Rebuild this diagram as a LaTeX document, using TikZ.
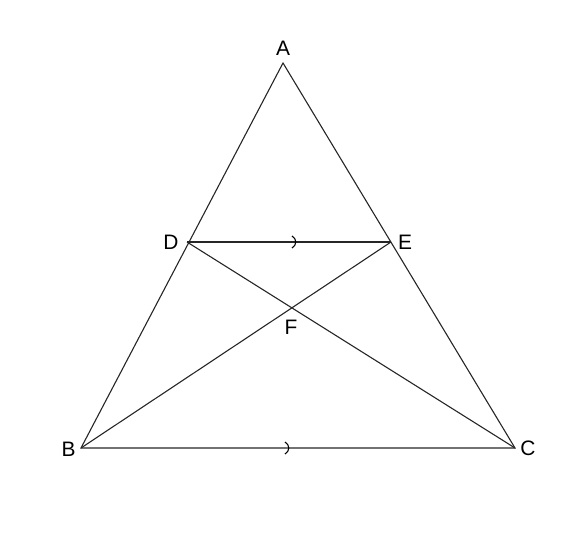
\documentclass[tikz,border=0pt]{standalone}
\usepackage{fontspec}
\setmainfont{Liberation Sans}
\begin{document}
\begin{tikzpicture}[x=1bp,y=-1bp,
  edge/.style={line width=1.1bp, draw=black!85},
  lbl/.style={font=\fontsize{21}{21}\selectfont, inner sep=0pt},
  tickmark/.style={line width=1.1bp, draw=black}]
\useasboundingbox (0,0) rectangle (573,533);
\coordinate (A) at (283,63);
\coordinate (B) at (81,448);
\coordinate (C) at (515,448);
\coordinate (D) at (187,242);
\coordinate (E) at (391,242);
\coordinate (F) at (291.5,308);
\draw[edge] (A) -- (B) -- (C) -- cycle;
\draw[edge] (D) -- (E);
\draw[edge] (D) -- (C);
\draw[edge] (E) -- (B);
\coordinate (t1) at (294,242);
\coordinate (t2) at (287,448);
\draw[tickmark] ([shift={(-2,-6)}]t1) .. controls ([shift={(3,-3)}]t1) and ([shift={(3,3)}]t1) .. ([shift={(-2,6)}]t1);
\draw[tickmark] ([shift={(-2,-6)}]t2) .. controls ([shift={(3,-3)}]t2) and ([shift={(3,3)}]t2) .. ([shift={(-2,6)}]t2);
\node[lbl] (lA) at (283,48) {A};
\node[lbl] (lB) at (68.5,449) {B};
\node[lbl] (lC) at (528,448) {C};
\node[lbl] (lD) at (171,242) {D};
\node[lbl] (lE) at (405,242) {E};
\node[lbl] (lF) at (291,327) {F};
\end{tikzpicture}
\end{document}
